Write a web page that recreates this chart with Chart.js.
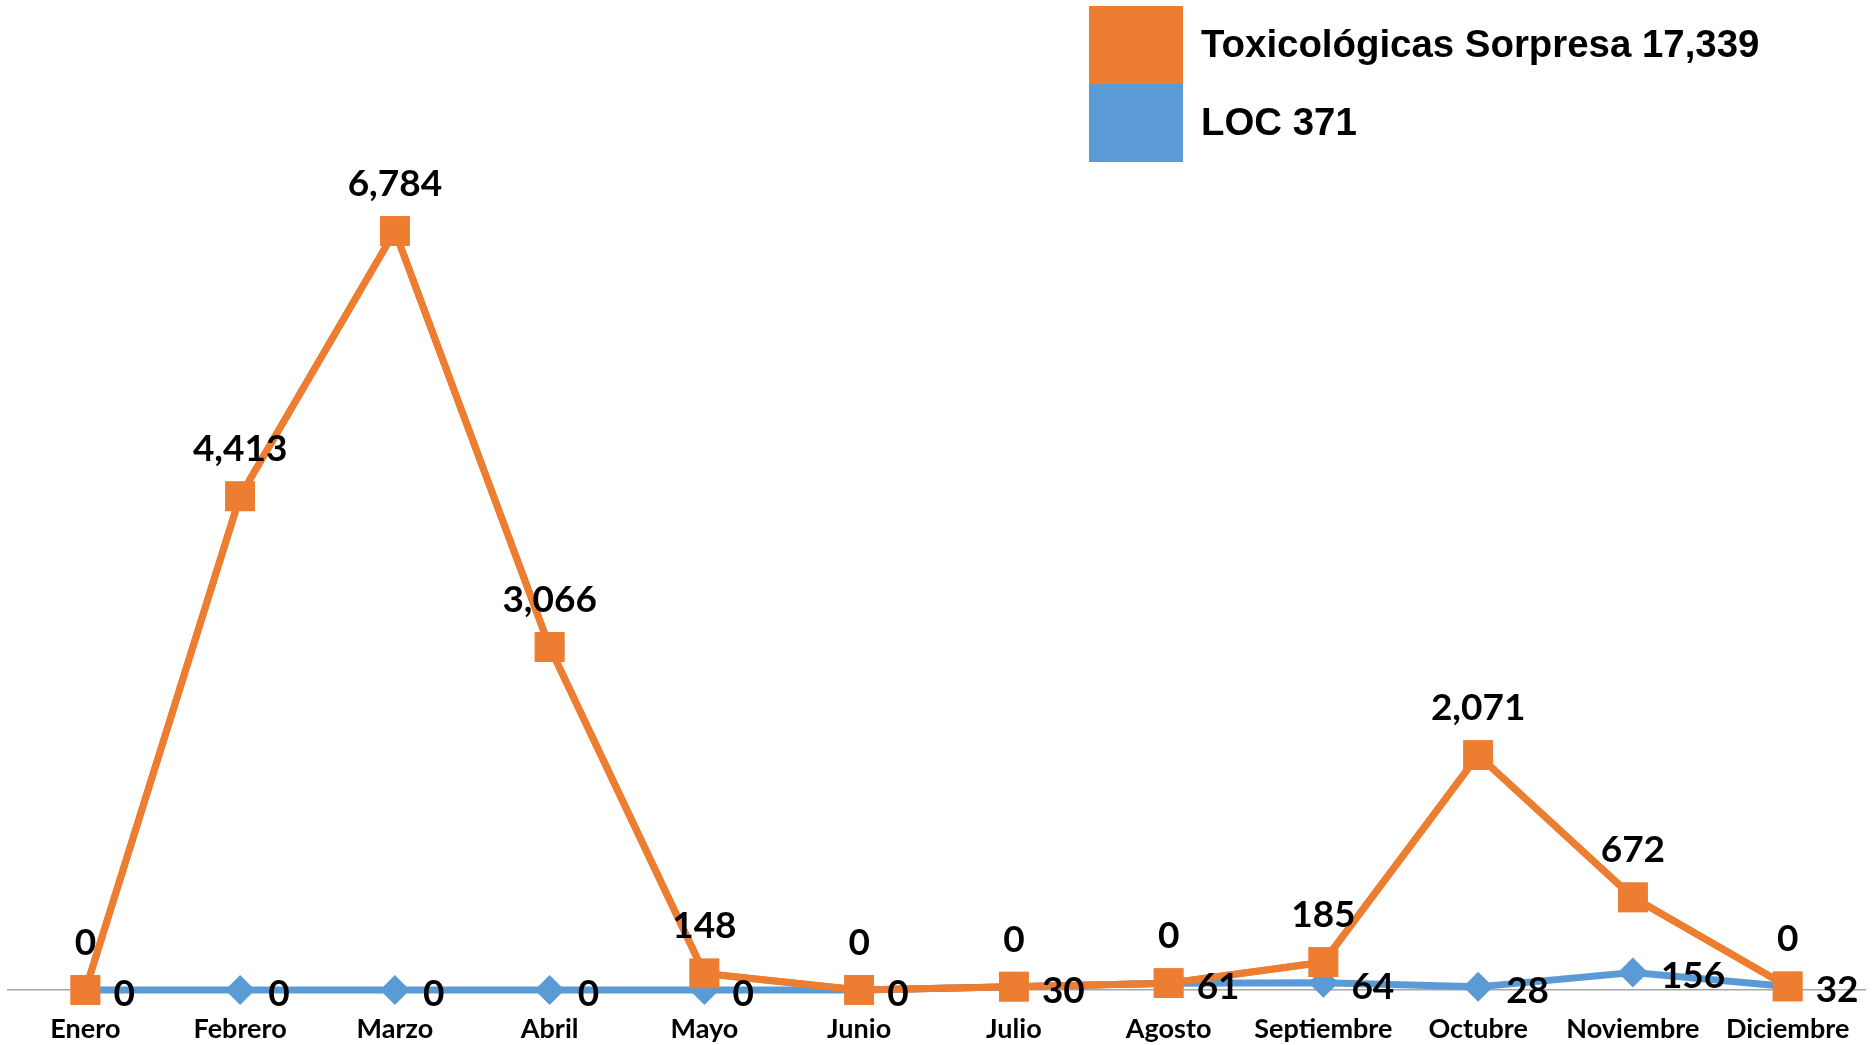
<!DOCTYPE html>
<html>
<head>
<meta charset="utf-8">
<script src="https://cdn.jsdelivr.net/npm/chart.js@4.4.1/dist/chart.umd.min.js"></script>
<style>
  html, body { margin: 0; padding: 0; background: #ffffff; }
  #wrap { position: relative; width: 1873px; height: 1045px; }
</style>
</head>
<body>
<div id="wrap"><canvas id="c"></canvas></div>
<script>
const months = ['Enero','Febrero','Marzo','Abril','Mayo','Junio','Julio','Agosto','Septiembre','Octubre','Noviembre','Diciembre'];
const toxValues = [0, 4413, 6784, 3066, 148, 0, 0, 0, 185, 2071, 672, 0];
const locValues = [0, 0, 0, 0, 0, 0, 30, 61, 64, 28, 156, 32];
const toxName = 'Toxicológicas Sorpresa';
const locName = 'LOC';

const ORANGE = '#ED7D31';
const BLUE = '#5B9BD5';
const fmt = v => v.toLocaleString('en-US');
const sum = a => a.reduce((s, v) => s + v, 0);

const overlayPlugin = {
  id: 'overlay',
  afterDatasetsDraw(chart) {
    const ctx = chart.ctx;
    // bring the orange series to the front
    chart.getDatasetMeta(1).controller.draw();
    ctx.save();
    ctx.fillStyle = '#000';
    ctx.font = 'bold 37px Lato';
    ctx.textBaseline = 'middle';
    const bm = chart.getDatasetMeta(0);
    ctx.textAlign = 'left';
    bm.data.forEach((pt, i) => ctx.fillText(fmt(locValues[i]), pt.x + 28, pt.y + 4));
    const om = chart.getDatasetMeta(1);
    ctx.textAlign = 'center';
    om.data.forEach((pt, i) => ctx.fillText(fmt(toxValues[i]), pt.x, pt.y - 47));
    ctx.restore();
  },
  afterDraw(chart) {
    const ctx = chart.ctx;
    ctx.save();
    const items = [
      { color: ORANGE, text: toxName + ' ' + fmt(sum(toxValues)) },
      { color: BLUE, text: locName + ' ' + fmt(sum(locValues)) }
    ];
    ctx.font = 'bold 38.4px "Liberation Sans", Arial, sans-serif';
    ctx.textAlign = 'left';
    ctx.textBaseline = 'alphabetic';
    items.forEach((it, i) => {
      const top = 6 + i * 78;
      ctx.fillStyle = it.color;
      ctx.fillRect(1089, top, 94, 78);
      ctx.fillStyle = '#000';
      ctx.fillText(it.text, 1201, top + 51);
    });
    ctx.restore();
  }
};

new Chart(document.getElementById('c'), {
  type: 'line',
  data: {
    labels: months,
    datasets: [
      {
        label: locName,
        data: locValues,
        borderColor: BLUE,
        backgroundColor: BLUE,
        borderWidth: 7,
        pointStyle: 'rectRot',
        pointRadius: 15,
        pointBorderWidth: 0,
        pointBackgroundColor: BLUE,
        pointBorderColor: BLUE,
        tension: 0,
        fill: false,
        clip: false
      },
      {
        label: toxName,
        data: toxValues,
        borderColor: ORANGE,
        backgroundColor: ORANGE,
        borderWidth: 7,
        pointStyle: 'rect',
        pointRadius: 21,
        pointBorderWidth: 0,
        pointBackgroundColor: ORANGE,
        pointBorderColor: ORANGE,
        tension: 0,
        fill: false,
        clip: false
      }
    ]
  },
  options: {
    responsive: true,
    maintainAspectRatio: false,
    animation: false,
    layout: { autoPadding: false, padding: { left: 8, right: 8, top: 95, bottom: -23.4 } },
    plugins: { legend: { display: false }, tooltip: { enabled: false } },
    scales: {
      y: { stacked: true, display: false, min: 0, max: 8000 },
      x: {
        offset: true,
        grid: { display: false, drawTicks: false },
        border: { display: true, color: '#a6a6a6', width: 1.5 },
        ticks: {
          color: '#000',
          font: { family: 'Lato', weight: 'bold', size: 27 },
          padding: 23,
          maxRotation: 0,
          autoSkip: false
        }
      }
    }
  },
  plugins: [overlayPlugin]
});
</script>
</body>
</html>
